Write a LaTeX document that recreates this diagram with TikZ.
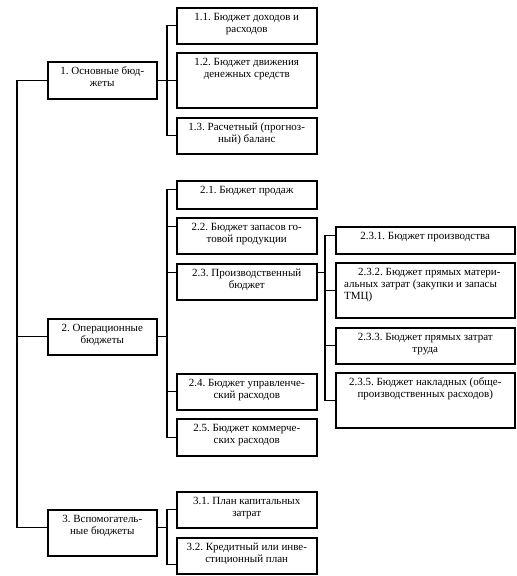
\documentclass[tikz,border=0pt]{standalone}
\usepackage{fontspec}
\setmainfont{Liberation Serif}
\usetikzlibrary{calc}
\frenchspacing
\newcommand\mkbox[6]{%
  \node[box, minimum width={#4-#2}, minimum height={#5-#3}] (#1) at (#2,#3) {};
  \node[lbl] (#1t) at ([yshift=-5pt]#1.north) {\strut #6};}
\begin{document}
\begin{tikzpicture}[x=1pt,y=-1pt,
  box/.style={draw, line width=1.5pt, inner sep=0pt, anchor=north west},
  lbl/.style={anchor=north, inner sep=0pt, align=center, font=\fontsize{11}{12}\selectfont\frenchspacing},
  conn/.style={line width=1.2pt}]
\useasboundingbox (0,0) rectangle (517,576);
% level 1
\mkbox{b1}{47}{61}{156}{98}{1. Основные бюд-\\жеты}
\mkbox{b2}{47}{318}{156}{354}{2. Операционные\\бюджеты}
\mkbox{b3}{47}{509}{156}{555}{3. Вспомогатель-\\ные бюджеты}
% level 2
\mkbox{b11}{176}{7}{316}{43}{1.1. Бюджет доходов и\\расходов}
\mkbox{b12}{176}{52}{316}{107}{1.2. Бюджет движения\\денежных средств}
\mkbox{b13}{176}{117}{316}{153}{1.3. Расчетный (прогноз-\\ный) баланс}
\mkbox{b21}{176}{180}{316}{208}{2.1. Бюджет продаж}
\mkbox{b22}{176}{217}{316}{253}{2.2. Бюджет запасов го-\\товой продукции}
\mkbox{b23}{176}{263}{316}{299}{2.3. Производственный\\бюджет}
\mkbox{b24}{176}{373}{316}{409}{2.4. Бюджет управленче-\\ский расходов}
\mkbox{b25}{176}{418}{316}{455}{2.5. Бюджет коммерче-\\ских расходов}
\mkbox{b31}{176}{491}{316}{527}{3.1. План капитальных\\затрат}
\mkbox{b32}{176}{537}{316}{573}{3.2. Кредитный или инве-\\стиционный план}
% level 3
\mkbox{b231}{335}{226}{514}{253}{2.3.1. Бюджет производства}
\node[box, minimum width=179, minimum height=55] (b232) at (335,262) {};
\node[lbl, anchor=north west, align=left] (b232t) at ([xshift=9pt,yshift=-5pt]b232.north west)
  {\strut\hspace*{14pt}2.3.2. Бюджет прямых матери-\\альных затрат (закупки и запасы\\ТМЦ)};
\mkbox{b233}{335}{327}{514}{363}{2.3.3. Бюджет прямых затрат\\труда}
\mkbox{b235}{335}{372}{514}{427}{2.3.5. Бюджет накладных (обще-\\производственных расходов)}
% trunk
\draw[conn] (b1.west) -- ++(-30,0) coordinate (trunk) |- ([yshift=5pt]b3.west);
\draw[conn] (b2.west) -- (b2.west -| trunk);
% group 1
\draw[conn] (b11.west) -- ++(-9,0) coordinate (bus1) |- (b13.west);
\draw[conn] (b1.east) -- (b12.west);
% group 2
\draw[conn] ([yshift=5pt]b21.west) -- ++(-9,0) coordinate (bus2) |- (b25.west);
\draw[conn] ([yshift=9pt]b22.west) -- ([yshift=9pt]b22.west -| bus2);
\draw[conn] ([yshift=9pt]b23.west) -- ([yshift=9pt]b23.west -| bus2);
\draw[conn] (b24.west) -- (b24.west -| bus2);
\draw[conn] (b2.east) -- (b2.east -| bus2);
% group 2.3
\draw[conn] ([yshift=4.5pt]b231.west) -- ++(-10,0) coordinate (bus3) |- (b235.west);
\draw[conn] (b232.west) -- (b232.west -| bus3);
\draw[conn] (b233.west) -- (b233.west -| bus3);
\draw[conn] ([yshift=9pt]b23.east) -- ([yshift=9pt]b23.east -| bus3);
% group 3
\draw[conn] (b31.west) -- ++(-9,0) coordinate (bus4) |- ([yshift=-9pt]b32.west);
\draw[conn] ([yshift=5pt]b3.east) -- ([yshift=5pt]b3.east -| bus4);
\end{tikzpicture}
\end{document}
